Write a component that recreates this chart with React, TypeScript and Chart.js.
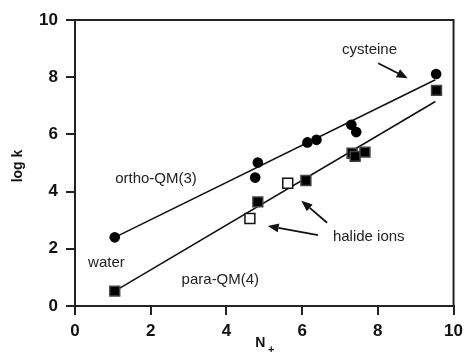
import React, { useEffect, useRef } from "react";
import { Chart, registerables } from "chart.js";
Chart.register(...registerables);

// Data
const orthoX = [1.05, 4.76, 4.83, 6.14, 6.38, 7.3, 7.43, 9.54];
const orthoY = [2.4, 4.49, 5.02, 5.72, 5.81, 6.34, 6.08, 8.11];
const paraFilledX = [1.05, 4.83, 6.1, 7.32, 7.4, 7.66, 9.55];
const paraFilledY = [0.52, 3.64, 4.39, 5.34, 5.23, 5.38, 7.54];
const paraOpenX = [4.62, 5.62];
const paraOpenY = [3.06, 4.29];
const orthoFitX = [1.05, 9.52];
const orthoFitY = [2.4, 7.91];
const paraFitX = [1.05, 9.52];
const paraFitY = [0.52, 7.15];

const xTicks = [0, 2, 4, 6, 8, 10];
const yTicks = [0, 2, 4, 6, 8, 10];

const labelTexts = ["cysteine", "ortho-QM(3)", "water", "para-QM(4)", "halide ions"];
const labelX = [7.78, 2.14, 0.83, 3.84, 7.76];
const labelY = [8.95, 4.44, 1.51, 0.91, 2.41];

const arrowFromX = [8.01, 6.66, 6.42];
const arrowFromY = [8.49, 2.91, 2.48];
const arrowToX = [8.79, 5.98, 5.09];
const arrowToY = [7.96, 3.68, 2.8];

const xTitle = "N";
const xTitleSub = "+";
const yTitle = "log k";

const FONT = "'Liberation Sans', Arial, Helvetica, sans-serif";

const pts = (xs: number[], ys: number[]) => xs.map((x, i) => ({ x, y: ys[i] }));

const annotPlugin = {
  id: "annot",
  afterDatasetsDraw(chart: any) {
    const { ctx, chartArea, scales } = chart;
    const xs = scales.x;
    const ys = scales.y;
    ctx.save();
    // top & right frame
    ctx.strokeStyle = "#222";
    ctx.lineWidth = 2;
    ctx.beginPath();
    ctx.moveTo(chartArea.left, chartArea.top);
    ctx.lineTo(chartArea.right, chartArea.top);
    ctx.lineTo(chartArea.right, chartArea.bottom);
    ctx.stroke();

    // labels
    ctx.fillStyle = "#222";
    ctx.font = `15px ${FONT}`;
    ctx.textAlign = "center";
    ctx.textBaseline = "middle";
    labelTexts.forEach((t, i) => {
      ctx.fillText(t, xs.getPixelForValue(labelX[i]), ys.getPixelForValue(labelY[i]));
    });

    // arrows
    ctx.strokeStyle = "#111";
    ctx.fillStyle = "#111";
    ctx.lineWidth = 1.8;
    arrowFromX.forEach((_, i) => {
      const x1 = xs.getPixelForValue(arrowFromX[i]);
      const y1 = ys.getPixelForValue(arrowFromY[i]);
      const x2 = xs.getPixelForValue(arrowToX[i]);
      const y2 = ys.getPixelForValue(arrowToY[i]);
      const a = Math.atan2(y2 - y1, x2 - x1);
      const L = 11;
      const W = 4.5;
      const bx = x2 - L * Math.cos(a);
      const by = y2 - L * Math.sin(a);
      ctx.beginPath();
      ctx.moveTo(x1, y1);
      ctx.lineTo(bx, by);
      ctx.stroke();
      ctx.beginPath();
      ctx.moveTo(x2, y2);
      ctx.lineTo(bx + W * Math.sin(a), by - W * Math.cos(a));
      ctx.lineTo(bx - W * Math.sin(a), by + W * Math.cos(a));
      ctx.closePath();
      ctx.fill();
    });

    // axis titles
    ctx.fillStyle = "#111";
    ctx.font = `bold 14px ${FONT}`;
    ctx.textAlign = "center";
    ctx.textBaseline = "middle";
    const cx = (chartArea.left + chartArea.right) / 2;
    ctx.fillText(xTitle, cx - 4, 343.5);
    ctx.font = `bold 11px ${FONT}`;
    ctx.fillText(xTitleSub, cx + 7, 350);
    ctx.save();
    ctx.translate(18, (chartArea.top + chartArea.bottom) / 2 + 3);
    ctx.rotate(-Math.PI / 2);
    ctx.font = `bold 14px ${FONT}`;
    ctx.fillText(yTitle, 0, 0);
    ctx.restore();
    ctx.restore();
  },
};

export default function App() {
  const ref = useRef<HTMLCanvasElement>(null);
  useEffect(() => {
    if (!ref.current) return;
    const chart = new Chart(ref.current, {
      type: "scatter",
      data: {
        datasets: [
          {
            data: pts(orthoX, orthoY),
            pointStyle: "circle",
            pointRadius: 5.3,
            backgroundColor: "#000",
            borderColor: "#000",
            borderWidth: 0,
          },
          {
            data: pts(paraFilledX, paraFilledY),
            pointStyle: "rect",
            pointRadius: 7,
            backgroundColor: "#000",
            borderColor: "#444",
            borderWidth: 1.5,
          },
          {
            data: pts(paraOpenX, paraOpenY),
            pointStyle: "rect",
            pointRadius: 7,
            backgroundColor: "#fff",
            borderColor: "#111",
            borderWidth: 1.5,
          },
          {
            type: "line",
            data: pts(orthoFitX, orthoFitY),
            showLine: true,
            pointRadius: 0,
            borderColor: "#111",
            borderWidth: 1.6,
            fill: false,
          },
          {
            type: "line",
            data: pts(paraFitX, paraFitY),
            showLine: true,
            pointRadius: 0,
            borderColor: "#111",
            borderWidth: 1.6,
            fill: false,
          },
        ] as any,
      },
      options: {
        animation: false,
        responsive: false,
        layout: { padding: { left: 0, right: 11, top: 20, bottom: 0 } },
        plugins: { legend: { display: false }, tooltip: { enabled: false } },
        scales: {
          x: {
            type: "linear",
            min: 0,
            max: 10,
            afterFit: (s: any) => {
              s.height = 47;
            },
            afterBuildTicks: (s: any) => {
              s.ticks = xTicks.map((v) => ({ value: v }));
            },
            grid: {
              drawOnChartArea: false,
              drawTicks: true,
              tickLength: 9,
              color: "#222",
              lineWidth: 2,
            },
            border: { display: true, color: "#222", width: 2 },
            ticks: {
              font: { size: 17, weight: "bold", family: FONT },
              color: "#111",
              padding: 6,
            },
          },
          y: {
            type: "linear",
            min: 0,
            max: 10,
            afterFit: (s: any) => {
              s.width = 75;
            },
            afterBuildTicks: (s: any) => {
              s.ticks = yTicks.map((v) => ({ value: v }));
            },
            grid: {
              drawOnChartArea: false,
              drawTicks: true,
              tickLength: 9,
              color: "#222",
              lineWidth: 2,
            },
            border: { display: true, color: "#222", width: 2 },
            ticks: {
              font: { size: 17, weight: "bold", family: FONT },
              color: "#111",
              padding: 8,
            },
          },
        },
      } as any,
      plugins: [annotPlugin],
    });
    return () => chart.destroy();
  }, []);
  return (
    <div style={{ position: "fixed", left: 0, top: 0, width: 469, height: 353, background: "#fff" }}>
      <canvas ref={ref} width={469} height={353} style={{ width: 469, height: 353 }} />
    </div>
  );
}
